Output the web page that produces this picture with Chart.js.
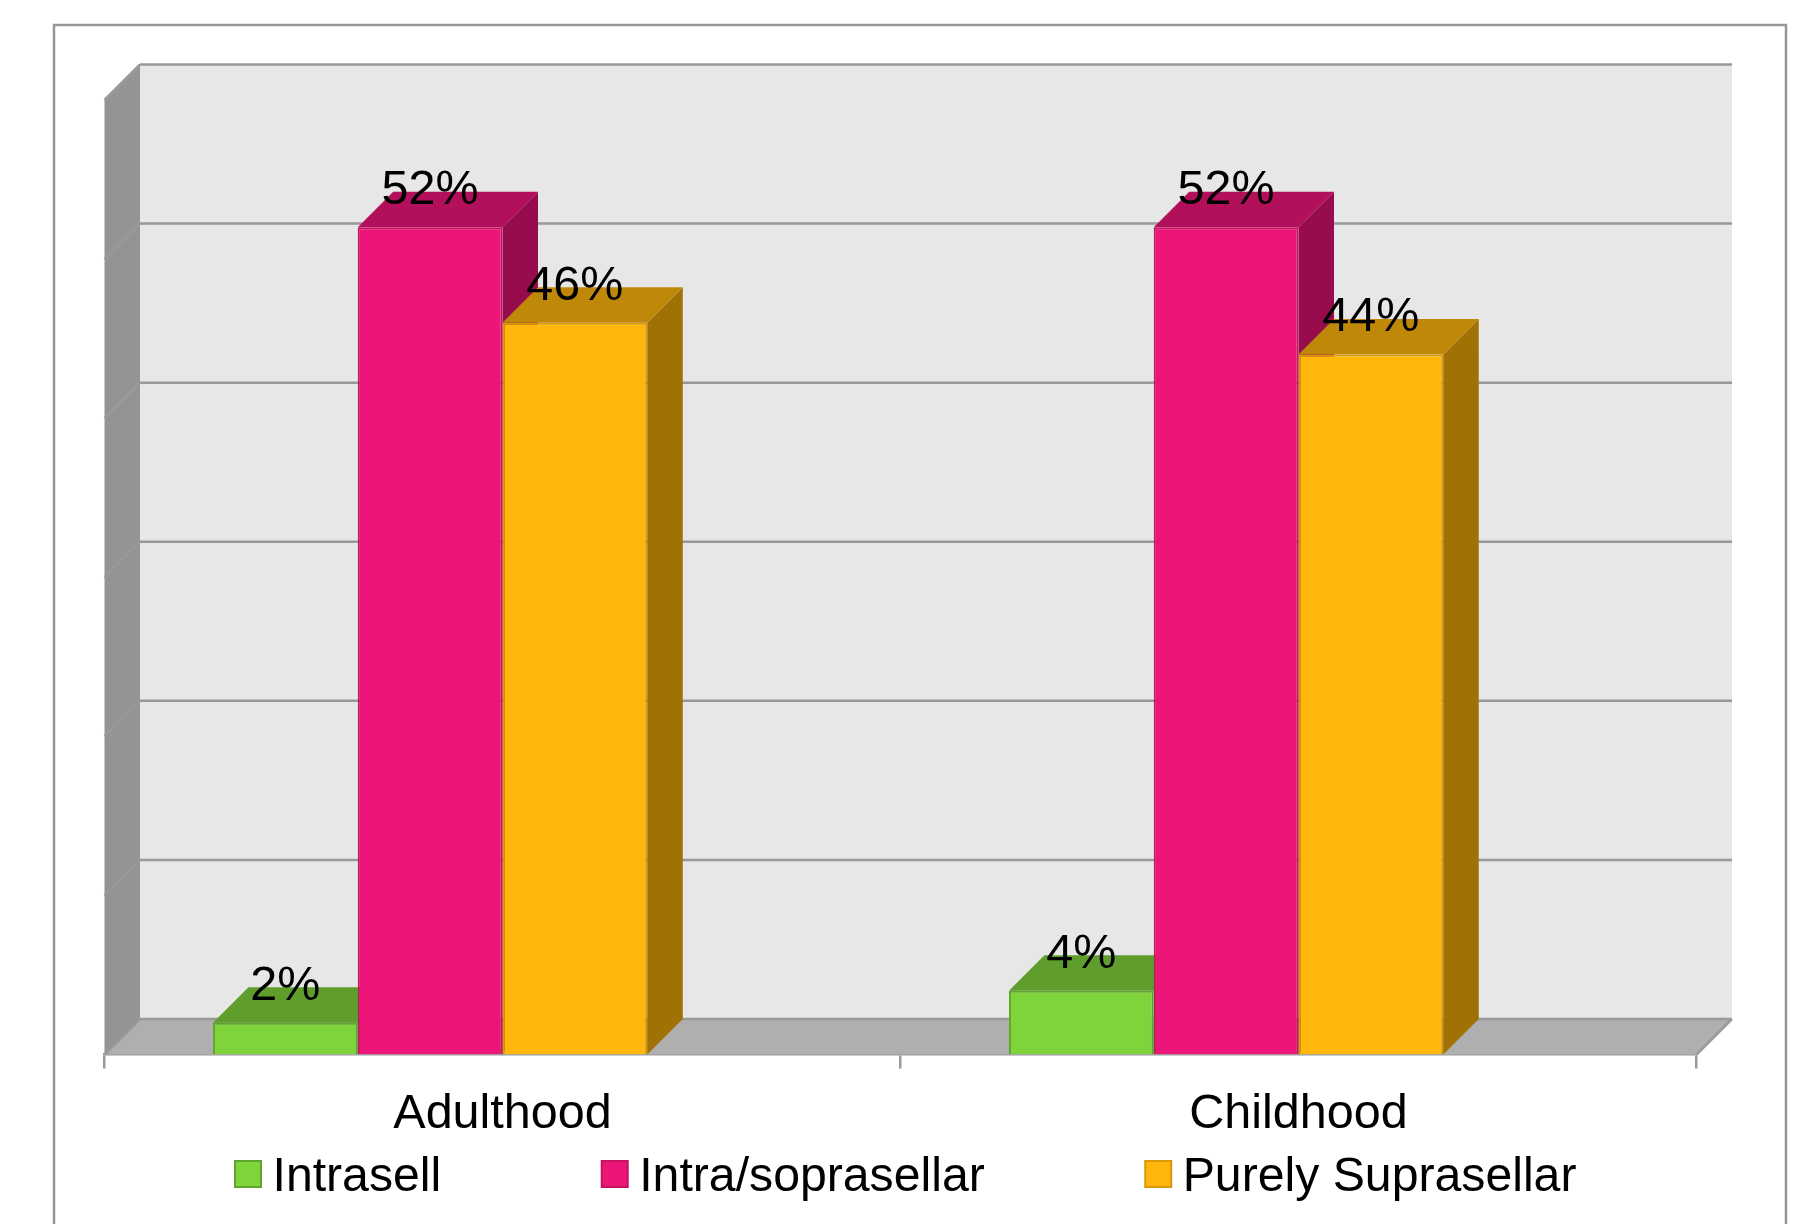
<!DOCTYPE html>
<html>
<head>
<meta charset="utf-8">
<title>Tumor location</title>
<script src="https://cdn.jsdelivr.net/npm/chart.js@4/dist/chart.umd.min.js"></script>
<style>
    html, body { margin: 0; padding: 0; background: #fff; overflow: hidden; }
    canvas { display: block; }
</style>
</head>
<body>
<canvas id="locationChart" width="1809" height="1224"></canvas>
<script>
const categories = ["Adulthood", "Childhood"];
const intrasell = [2, 4];
const intraSoprasellar = [52, 52];
const purelySuprasellar = [46, 44];
// Fourth slot in each group stays empty, so the bars sit left of the category centre
const emptySeries = [null, null];
const yTicks = [0, 10, 20, 30, 40, 50, 60];

const FONT_FAMILY = '"Liberation Sans", Arial, sans-serif';
const FONT = "48.5px " + FONT_FAMILY;
const LEGEND_FONT = "48.2px " + FONT_FAMILY;
const GRID = "#999999";
const DEPTH = 35.5;

// Face colours for each series: front, border, top, side
const palette = [
    { front: "#7FD33B", border: "#5FA52D", top: "#5F9E2C", side: "#4F8525" },
    { front: "#EC1679", border: "#C4145F", top: "#B2105B", side: "#960C4D" },
    { front: "#FFB70B", border: "#D89A0A", top: "#C08808", side: "#A07206" }
];

function fillPoly(ctx, points, color) {
    ctx.fillStyle = color;
    ctx.beginPath();
    points.forEach(([x, y], i) => (i ? ctx.lineTo(x, y) : ctx.moveTo(x, y)));
    ctx.closePath();
    ctx.fill();
}

function strokeLine(ctx, x1, y1, x2, y2) {
    ctx.beginPath();
    ctx.moveTo(x1, y1);
    ctx.lineTo(x2, y2);
    ctx.stroke();
}

// Outer frame, back wall, side wall and floor behind the bars
const roomPlugin = {
    id: "room",
    beforeDatasetsDraw(chart) {
        const ctx = chart.ctx;
        const { left, right } = chart.chartArea;
        const y = chart.scales.y;
        const y0 = y.getPixelForValue(0);
        const yMax = y.getPixelForValue(yTicks[yTicks.length - 1]);

        ctx.save();
        ctx.strokeStyle = "#969696";
        ctx.lineWidth = 2.5;
        ctx.beginPath();
        ctx.moveTo(54, 1230);
        ctx.lineTo(54, 25);
        ctx.lineTo(1786, 25);
        ctx.lineTo(1786, 1230);
        ctx.stroke();

        fillPoly(ctx, [[left + DEPTH, yMax - DEPTH], [right + DEPTH, yMax - DEPTH],
            [right + DEPTH, y0 - DEPTH], [left + DEPTH, y0 - DEPTH]], "#E7E7E7");
        fillPoly(ctx, [[left, yMax], [left + DEPTH, yMax - DEPTH],
            [left + DEPTH, y0 - DEPTH], [left, y0]], "#949494");
        fillPoly(ctx, [[left, y0], [left + DEPTH, y0 - DEPTH],
            [right + DEPTH, y0 - DEPTH], [right, y0]], "#AFAFAF");

        ctx.strokeStyle = GRID;
        ctx.lineWidth = 2.5;
        yTicks.forEach(tick => {
            const py = y.getPixelForValue(tick);
            strokeLine(ctx, left + DEPTH, py - DEPTH, right + DEPTH, py - DEPTH);
            strokeLine(ctx, left, py, left + DEPTH, py - DEPTH);
        });
        strokeLine(ctx, right, y0, right + DEPTH, y0 - DEPTH);

        // Top and side of each bar, left to right so later bars overlap earlier ones
        for (let d = 0; d < palette.length; d++) {
            chart.getDatasetMeta(d).data.forEach(bar => {
                const x1 = bar.x - bar.width / 2;
                const x2 = bar.x + bar.width / 2;
                fillPoly(ctx, [[x2, bar.y], [x2 + DEPTH, bar.y - DEPTH],
                    [x2 + DEPTH, bar.base - DEPTH], [x2, bar.base]], palette[d].side);
                fillPoly(ctx, [[x1, bar.y], [x1 + DEPTH, bar.y - DEPTH],
                    [x2 + DEPTH, bar.y - DEPTH], [x2, bar.y]], palette[d].top);
            });
        }
        ctx.restore();
    },
    afterDatasetsDraw(chart) {
        const ctx = chart.ctx;
        ctx.save();
        ctx.font = FONT;
        ctx.fillStyle = "#000";
        ctx.textAlign = "center";
        ctx.textBaseline = "middle";
        for (let d = 0; d < palette.length; d++) {
            const values = chart.data.datasets[d].data;
            chart.getDatasetMeta(d).data.forEach((bar, i) => {
                ctx.fillText(values[i] + "%", bar.x, bar.y - 36.5);
            });
        }
        ctx.restore();
    }
};

// Legend row under the category labels
const legendPlugin = {
    id: "legendRow",
    afterDraw(chart) {
        const ctx = chart.ctx;
        let x = 235;
        ctx.save();
        ctx.font = LEGEND_FONT;
        ctx.textAlign = "left";
        ctx.textBaseline = "middle";
        palette.forEach((colors, d) => {
            const label = chart.data.datasets[d].label;
            ctx.fillStyle = colors.front;
            ctx.fillRect(x, 1161, 26, 26);
            ctx.strokeStyle = colors.border;
            ctx.lineWidth = 2;
            ctx.strokeRect(x, 1161, 26, 26);
            ctx.fillStyle = "#000";
            ctx.fillText(label, x + 37.5, 1178);
            x += 37.5 + ctx.measureText(label).width + 160.5;
        });
        ctx.restore();
    }
};

function seriesDataset(label, values, colors) {
    return {
        label: label,
        data: values,
        backgroundColor: colors.front,
        borderColor: colors.border,
        borderWidth: 2
    };
}

new Chart(document.getElementById("locationChart"), {
    type: "bar",
    data: {
        labels: categories,
        datasets: [
            seriesDataset("Intrasell", intrasell, palette[0]),
            seriesDataset("Intra/soprasellar", intraSoprasellar, palette[1]),
            seriesDataset("Purely Suprasellar", purelySuprasellar, palette[2]),
            { label: "", data: emptySeries }
        ]
    },
    options: {
        responsive: false,
        animation: false,
        layout: { padding: { left: 104.5, right: 112.5, top: 100, bottom: 0 } },
        datasets: { bar: { categoryPercentage: 0.7275, barPercentage: 1 } },
        scales: {
            x: {
                grid: {
                    drawOnChartArea: false,
                    color: GRID,
                    lineWidth: 2.5,
                    tickLength: 14
                },
                border: { color: GRID, width: 2.5 },
                ticks: {
                    color: "#000",
                    padding: 17.5,
                    maxRotation: 0,
                    font: { family: FONT_FAMILY, size: 48.5 }
                },
                afterFit(scale) {
                    scale.height = 169.5;
                }
            },
            y: {
                display: false,
                min: 0,
                max: 60,
                ticks: { stepSize: 10 }
            }
        },
        plugins: {
            legend: { display: false },
            tooltip: { enabled: false }
        }
    },
    plugins: [roomPlugin, legendPlugin]
});
</script>
</body>
</html>
